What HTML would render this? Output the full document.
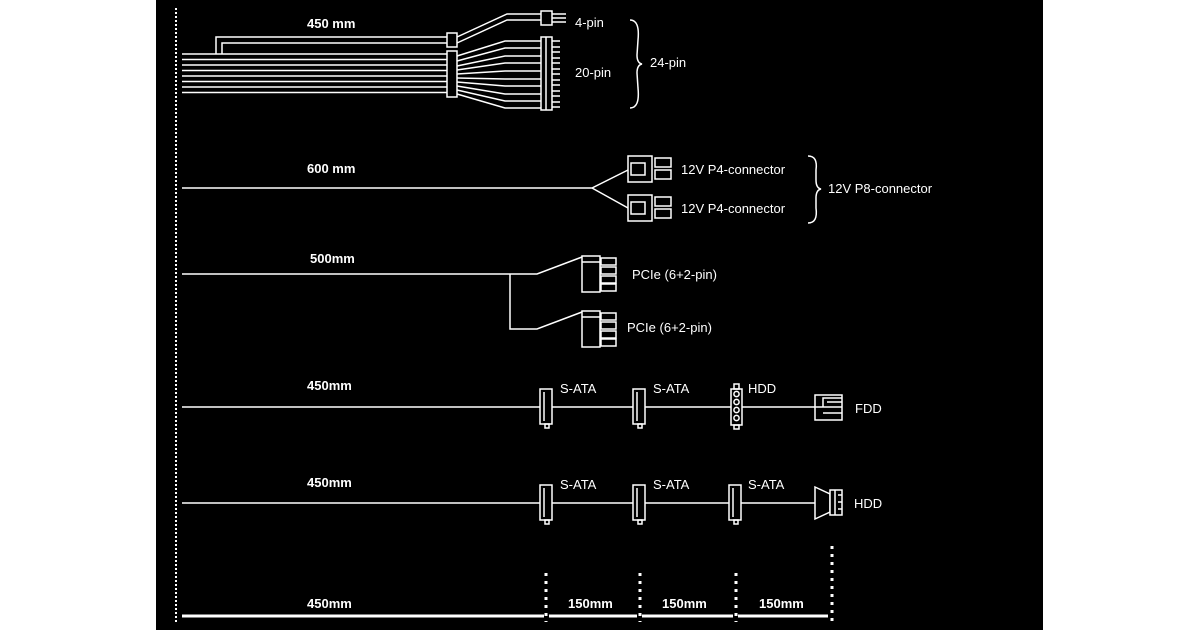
<!DOCTYPE html>
<html><head><meta charset="utf-8"><style>
html,body{margin:0;padding:0;background:#fff;}
svg{display:block;}
text{font-family:"Liberation Sans",sans-serif;fill:#fff;font-size:13px;}
.b{font-weight:bold;}
</style></head><body>
<svg width="1200" height="630" viewBox="0 0 1200 630" xmlns="http://www.w3.org/2000/svg">
<rect x="156" y="0" width="887" height="630" fill="#000"/>
<g stroke="#fff" fill="none" stroke-width="1.5">
<!-- left dotted -->
<line x1="176" y1="8" x2="176" y2="622" stroke-dasharray="2,2" stroke-width="2"/>
<!-- 24 pin wires -->
<path d="M182 54H447 M182 59.5H447 M182 65H447 M182 70.5H447 M182 76H447 M182 81.5H447 M182 87H447 M182 92.5H447"/>
<path d="M216 54V37H447 M222 54V43H447"/>
<rect x="447" y="33" width="10" height="14"/>
<rect x="447" y="51" width="10" height="46"/>
<path d="M457 37L507 14H541 M457 43L507 20H541"/>
<rect x="541" y="11" width="11" height="14"/>
<path d="M552 14H566 M552 18H566 M552 22H566"/>
<path d="M457 56L505 41H541 M457 61L505 48H541 M457 66L505 56H541 M457 70L505 63H541 M457 74L505 71H541 M457 78L505 79H541 M457 82L505 86H541 M457 86L505 94H541 M457 90L505 101H541 M457 94L505 108H541"/>
<rect x="541" y="37" width="11" height="73"/>
<line x1="546" y1="37" x2="546" y2="110"/>
<path d="M552 41H560 M552 47H560 M552 52H560 M552 58H560 M552 63H560 M552 69H560 M552 74H560 M552 80H560 M552 85H560 M552 91H560 M552 96H560 M552 102H560 M552 107H560"/>
<path d="M630 20Q640 20 638 40L637 55Q637 63 642 64Q637 65 637 73L638 88Q640 108 630 108"/>
<!-- 600mm -->
<path d="M182 188H592L628 170 M592 188L628 208"/>
<rect x="628" y="156" width="24" height="26"/><rect x="631" y="163" width="14" height="12"/>
<rect x="655" y="158" width="16" height="9"/><rect x="655" y="170" width="16" height="9"/>
<rect x="628" y="195" width="24" height="26"/><rect x="631" y="202" width="14" height="12"/>
<rect x="655" y="197" width="16" height="9"/><rect x="655" y="209" width="16" height="9"/>
<path d="M808 156Q818 156 816 170L816 180Q816 188 821 189Q816 190 816 198L816 208Q818 223 808 223"/>
<!-- 500mm -->
<path d="M182 274H537L582 257 M510 274V329H537L582 312"/>
<rect x="582" y="256" width="18" height="36"/><line x1="582" y1="262" x2="600" y2="262"/>
<rect x="601" y="258" width="15" height="7"/><rect x="601" y="267" width="15" height="7"/><rect x="601" y="276" width="15" height="7"/><rect x="601" y="284" width="15" height="7"/>
<rect x="582" y="311" width="18" height="36"/><line x1="582" y1="317" x2="600" y2="317"/>
<rect x="601" y="313" width="15" height="7"/><rect x="601" y="322" width="15" height="7"/><rect x="601" y="331" width="15" height="7"/><rect x="601" y="339" width="15" height="7"/>
<!-- sata row 1 -->
<line x1="182" y1="407" x2="815" y2="407"/>
<g id="sata"><rect x="540" y="389" width="12" height="35" fill="#000"/><line x1="544" y1="392" x2="544" y2="421"/><rect x="545" y="424" width="4" height="4"/></g>
<use href="#sata" x="93" y="0"/>
<rect x="731" y="389" width="11" height="36" fill="#000"/><rect x="734" y="384" width="5" height="5"/><rect x="734" y="425" width="5" height="4"/>
<circle cx="736.5" cy="394" r="2.6"/><circle cx="736.5" cy="402" r="2.6"/><circle cx="736.5" cy="410" r="2.6"/><circle cx="736.5" cy="418" r="2.6"/>
<rect x="815" y="395" width="27" height="25" fill="#000"/><path d="M823 407V398H842 M823 407H842 M827 402H842 M823 413H842 M815 407H823"/>
<!-- sata row 2 -->
<line x1="182" y1="503" x2="815" y2="503"/>
<use href="#sata" x="0" y="96"/><use href="#sata" x="93" y="96"/><use href="#sata" x="189" y="96"/>
<path d="M815 487L830 494V512L815 519Z" fill="#000"/><rect x="830" y="490" width="12" height="25" fill="#000"/><line x1="835" y1="490" x2="835" y2="515"/>
<path d="M838 495H842 M838 502H842 M838 509H842"/>
<!-- bottom -->
<g stroke-width="3"><line x1="182" y1="616" x2="544" y2="616"/><line x1="549" y1="616" x2="637" y2="616"/><line x1="642" y1="616" x2="733" y2="616"/><line x1="738" y1="616" x2="828" y2="616"/></g>
<g stroke-width="3" stroke-dasharray="3,5"><line x1="546" y1="573" x2="546" y2="622"/><line x1="640" y1="573" x2="640" y2="622"/><line x1="736" y1="573" x2="736" y2="622"/><line x1="832" y1="546" x2="832" y2="622"/></g>
</g>
<text x="307" y="28" class="b">450 mm</text>
<text x="575" y="27">4-pin</text>
<text x="575" y="77">20-pin</text>
<text x="650" y="67">24-pin</text>
<text x="307" y="173" class="b">600 mm</text>
<text x="681" y="174">12V P4-connector</text>
<text x="681" y="213">12V P4-connector</text>
<text x="828" y="193">12V P8-connector</text>
<text x="310" y="263" class="b">500mm</text>
<text x="632" y="279">PCIe (6+2-pin)</text>
<text x="627" y="332">PCIe (6+2-pin)</text>
<text x="307" y="390" class="b">450mm</text>
<text x="560" y="393">S-ATA</text>
<text x="653" y="393">S-ATA</text>
<text x="748" y="393">HDD</text>
<text x="855" y="413">FDD</text>
<text x="307" y="487" class="b">450mm</text>
<text x="560" y="489">S-ATA</text>
<text x="653" y="489">S-ATA</text>
<text x="748" y="489">S-ATA</text>
<text x="854" y="508">HDD</text>
<text x="307" y="608" class="b">450mm</text>
<text x="568" y="608" class="b">150mm</text>
<text x="662" y="608" class="b">150mm</text>
<text x="759" y="608" class="b">150mm</text>
</svg>
</body></html>
